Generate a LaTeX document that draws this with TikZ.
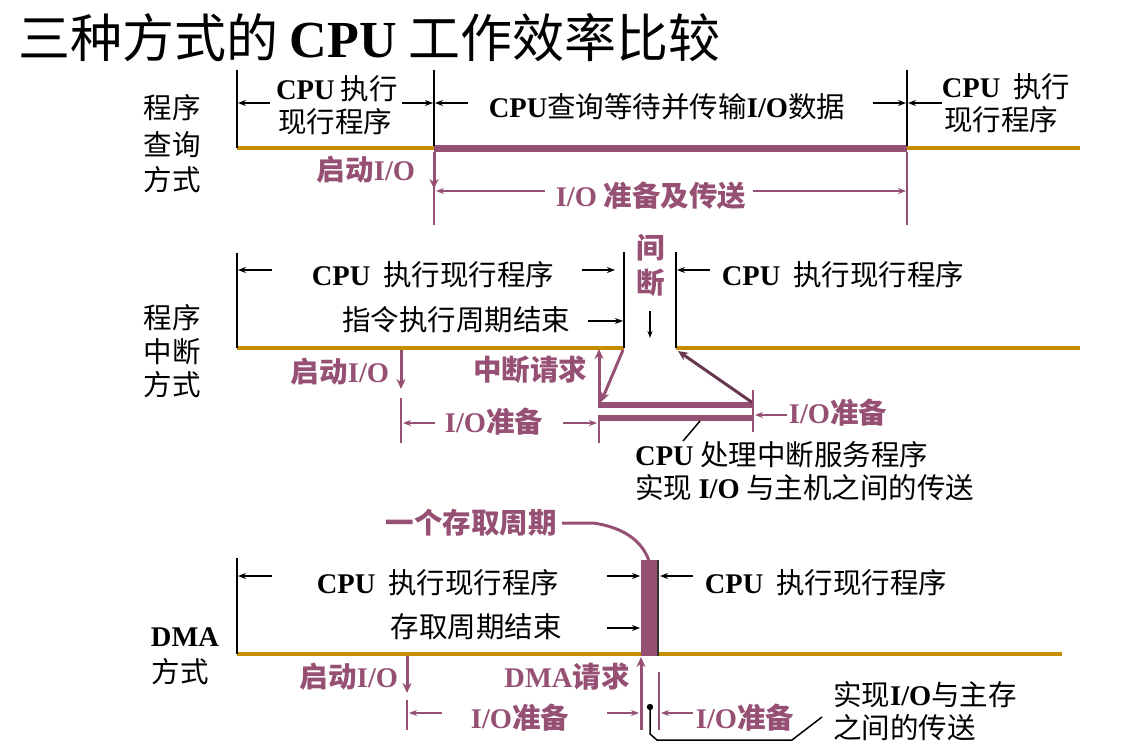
\documentclass[tikz,border=0pt]{standalone}
\usepackage{fontspec}
\setmainfont{Noto Sans CJK SC}
\newfontfamily\tmfont{Liberation Serif}
\usetikzlibrary{arrows.meta}
\definecolor{orng}{RGB}{196,142,0}
\definecolor{purp}{RGB}{150,80,115}
\newcommand\TB[1]{{\tmfont\bfseries #1}}
\tikzset{
  txt/.style={inner sep=0pt, font=\fontsize{28.5}{33}\selectfont},
  ptxt/.style={inner sep=0pt, text=purp, font=\fontsize{28.5}{33}\selectfont\bfseries},
  blkline/.style={line width=2pt},
  orl/.style={draw=orng, line width=4pt},
  pbar/.style={draw=purp, line width=7pt},
  barr/.style={line width=1.4pt, -{Stealth[length=8pt,width=6pt]}},
  parr/.style={draw=purp, line width=3pt, -{Stealth[length=10pt,width=9pt]}},
  pline/.style={draw=purp, line width=2pt},
}
\begin{document}
\begin{tikzpicture}[x=1pt,y=-1pt]
\useasboundingbox (0,0) rectangle (1140,746);
% title
\node[inner sep=0pt, anchor=west, font=\fontsize{52}{60}\selectfont] (title) at (18,38) {三种方式的 \TB{CPU} 工作效率比较};

%%%%% section 1
\node[txt] (l1a) at (172,108) {程序};
\node[txt] (l1b) at (172,145) {查询};
\node[txt] (l1c) at (172,180) {方式};
\draw[orl] (237,148) -- (434,148);
\draw[orl] (907,148) -- (1080,148);
\draw[pbar] (434,148.5) -- (907,148.5);
\draw[blkline] (237,70) -- (237,148);
\draw[blkline] (434,70) -- (434,146);
\draw[blkline] (907,70) -- (907,146);
\draw[pline] (434,152) -- (434,225);
\draw[pline] (907,152) -- (907,225);
\draw[parr] (434,152) -- (434,189);
\draw[barr] (270,103) -- (238,103);
\draw[barr] (402,103) -- (433,103);
\draw[barr] (468,103) -- (435,103);
\draw[barr] (873,103) -- (906,103);
\draw[barr] (942,103) -- (908,103);
\node[txt] (s1a) at (337,89) {\TB{CPU} 执行};
\node[txt] (s1b) at (335,122) {现行程序};
\node[txt] (s1c) at (667,107) {\TB{CPU}查询等待并传输\TB{I/O}数据};
\node[txt] (s1d) at (1006,87) {\TB{CPU}\ \ 执行};
\node[txt] (s1e) at (1001,120) {现行程序};
\node[ptxt] (s1f) at (366,170) {启动\TB{I/O}};
\node[ptxt] (s1g) at (651,196) {\TB{I/O} 准备及传送};
\draw[barr, draw=purp] (545,191) -- (436,191);
\draw[barr, draw=purp] (753,191) -- (906,191);

%%%%% section 2
\node[txt] (l2a) at (172,318) {程序};
\node[txt] (l2b) at (172,352) {中断};
\node[txt] (l2c) at (172,385) {方式};
\draw[orl] (237,348) -- (624,348);
\draw[orl] (676,348) -- (1080,348);
\draw[blkline] (237,253) -- (237,348);
\draw[blkline] (624,252) -- (624,348);
\draw[blkline] (676,252) -- (676,348);
\draw[barr] (272,270) -- (238,270);
\draw[barr] (582,270) -- (615,270);
\draw[barr] (588,321) -- (623,321);
\draw[barr] (710,270) -- (677,270);
\draw[line width=1.2pt, -{Stealth[length=7pt,width=5pt]}] (650,311) -- (650,338);
\node[txt] (s2a) at (433,275) {\TB{CPU}\ \ 执行现行程序};
\node[txt] (s2b) at (456,320) {指令执行周期结束};
\node[ptxt] (s2c) at (651,248) {间};
\node[ptxt] (s2d) at (651,283) {断};
\node[txt] (s2e) at (843,275) {\TB{CPU}\ \ 执行现行程序};
\node[ptxt] (s2f) at (340,372) {启动\TB{I/O}};
\node[ptxt] (s2g) at (530,370) {中断请求};
\draw[parr] (401,350) -- (401,389);
\draw[pbar, line width=6pt] (598,405) -- (753,405);
\draw[pbar, line width=6pt] (598,418) -- (753,418);
\draw[parr] (599,405) -- (599,349);
\draw[parr] (623,350) -- (601,402);
\draw[parr, draw=purp!70!black] (753,403) -- (678,351);
\draw[pline] (401,398) -- (401,443);
\draw[pline] (599,418) -- (599,443);
\draw[pline] (753,390) -- (753,432);
\node[ptxt] (s2h) at (494,422) {\TB{I/O}准备};
\draw[barr, draw=purp] (435,423) -- (403,423);
\draw[barr, draw=purp] (563,423) -- (597,423);
\node[ptxt] (s2i) at (838,413) {\TB{I/O}准备};
\draw[barr, draw=purp] (787,415) -- (755,415);
\draw[line width=1.5pt] (700,421) -- (683,441);
\node[txt, anchor=west] (s2j) at (635,455) {\TB{CPU} 处理中断服务程序};
\node[txt, anchor=west] (s2k) at (635,488) {实现 \TB{I/O} 与主机之间的传送};

%%%%% section 3
\node[txt] (l3a) at (185,637) {\TB{DMA}};
\node[txt] (l3b) at (180,672) {方式};
\draw[orl] (237,654) -- (641,654);
\draw[orl] (658,654) -- (1062,654);
\draw[blkline] (237,558) -- (237,654);
\fill[purp] (641,560) rectangle (658,656);
\draw[line width=1.5pt, black!80] (658,560) -- (658,656);
\draw[draw=purp, line width=3pt] (562,523) -- (593,523) .. controls (622,527) and (642,540) .. (649,561);
\node[ptxt] (s3a) at (471,523) {一个存取周期};
\draw[barr] (272,576) -- (238,576);
\draw[barr] (607,576) -- (640,576);
\draw[barr] (693,576) -- (660,576);
\draw[barr] (607,628) -- (640,628);
\node[txt] (s3b) at (438,583) {\TB{CPU}\ \ 执行现行程序};
\node[txt] (s3c) at (476,627) {存取周期结束};
\node[txt] (s3d) at (826,583) {\TB{CPU}\ \ 执行现行程序};
\node[ptxt] (s3e) at (349,677) {启动\TB{I/O}};
\draw[parr] (407,656) -- (407,693);
\node[ptxt] (s3f) at (567,677) {\TB{DMA}请求};
\draw[parr] (641,730) -- (641,657);
\draw[pline] (407,700) -- (407,730);
\draw[pline] (659,672) -- (659,730);
\node[ptxt] (s3g) at (520,718) {\TB{I/O}准备};
\draw[barr, draw=purp] (442,713) -- (409,713);
\draw[barr, draw=purp] (607,713) -- (639,713);
\node[ptxt] (s3h) at (745,718) {\TB{I/O}准备};
\draw[barr, draw=purp] (693,713) -- (661,713);
\fill (650,707) circle (3.2pt);
\draw[line width=1.5pt] (650,707) -- (650,734) -- (657,740) -- (792,740) -- (822,717);
\node[txt, anchor=west] (s3i) at (833,695) {实现\TB{I/O}与主存};
\node[txt, anchor=west] (s3j) at (833,728) {之间的传送};
\end{tikzpicture}
\end{document}
